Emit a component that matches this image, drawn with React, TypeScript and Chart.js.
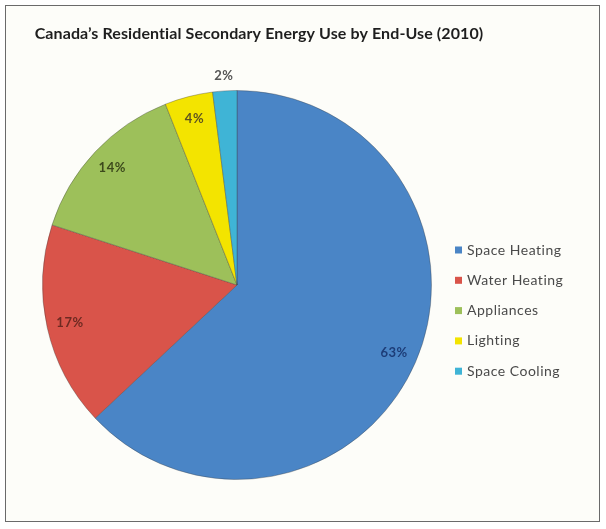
import React, { useEffect, useRef } from "react";
import { Chart, registerables } from "chart.js";

Chart.register(...registerables);

const TITLE = "Canada\u2019s Residential Secondary Energy Use by End-Use (2010)";
const categories = ["Space Heating", "Water Heating", "Appliances", "Lighting", "Space Cooling"];
const shares = [63, 17, 14, 4, 2];
const sliceColors = ["#4a85c6", "#d9544a", "#9dc05a", "#f3e400", "#3fb4d6"];
const labelColors = ["#1d3d78", "#6e2a22", "#3d4a1c", "#5e5420", "#555555"];

const titlePlugin = {
  id: "customTitle",
  afterDraw(chart: any) {
    const ctx = chart.ctx;
    ctx.save();
    ctx.font = "bold 16px Lato";
    (ctx as any).letterSpacing = "0.1px";
    ctx.fillStyle = "#1e1e1e";
    ctx.textAlign = "center";
    ctx.textBaseline = "middle";
    ctx.fillText(TITLE, 259, 34);
    ctx.restore();
  },
};

const sliceLabelPlugin = {
  id: "sliceLabels",
  afterDatasetsDraw(chart: any) {
    const ctx = chart.ctx;
    const meta = chart.getDatasetMeta(0);
    const values = chart.data.datasets[0].data;
    ctx.save();
    ctx.font = "bold 13px Lato";
    (ctx as any).letterSpacing = "0.5px";
    ctx.textAlign = "center";
    ctx.textBaseline = "middle";
    meta.data.forEach((arc: any, i: number) => {
      const p = arc.getProps(["x", "y", "startAngle", "endAngle", "outerRadius"], true);
      const mid = (p.startAngle + p.endAngle) / 2;
      const f = values[i] < 3 ? 1.08 : 0.88;
      const x = p.x + Math.cos(mid) * p.outerRadius * f;
      const y = p.y + Math.sin(mid) * p.outerRadius * f;
      ctx.fillStyle = labelColors[i];
      ctx.fillText(values[i] + "%", x, y);
    });
    ctx.restore();
  },
};

const legendPlugin = {
  id: "sideLegend",
  afterDraw(chart: any) {
    const ctx = chart.ctx;
    const ds = chart.data.datasets[0];
    ctx.save();
    ctx.font = "14px Lato";
    (ctx as any).letterSpacing = "0.5px";
    ctx.textBaseline = "middle";
    ctx.textAlign = "left";
    const x0 = 455;
    const y0 = 250;
    const step = 30.3;
    chart.data.labels.forEach((lab: string, i: number) => {
      const y = y0 + i * step;
      ctx.fillStyle = ds.backgroundColor[i];
      ctx.fillRect(x0, y - 3.5, 7, 7);
      ctx.fillStyle = "#4a4a4a";
      ctx.fillText(lab, x0 + 12, y);
    });
    ctx.restore();
  },
};

export default function App() {
  const ref = useRef<HTMLCanvasElement | null>(null);
  useEffect(() => {
    if (!ref.current) return;
    const chart = new Chart(ref.current, {
      type: "pie",
      data: {
        labels: categories,
        datasets: [
          {
            data: shares,
            backgroundColor: sliceColors,
            borderColor: "rgba(60,60,60,0.35)",
            borderWidth: 1,
          },
        ],
      },
      options: {
        animation: false,
        responsive: false,
        maintainAspectRatio: false,
        layout: { padding: { left: 42, right: 174, top: 90, bottom: 49 } },
        plugins: {
          legend: { display: false },
          title: { display: false },
          tooltip: { enabled: false },
        },
      },
      plugins: [titlePlugin, sliceLabelPlugin, legendPlugin],
    });
    return () => chart.destroy();
  }, []);
  return (
    <div style={{ position: "absolute", left: 0, top: 0, width: 606, height: 529, background: "#ffffff" }}>
      <div
        style={{
          position: "absolute",
          left: 5,
          top: 5,
          width: 593,
          height: 515,
          border: "1px solid #6a6a6a",
          background: "#fdfdf9",
        }}
      />
      <canvas ref={ref} width={606} height={529} style={{ position: "absolute", left: 0, top: 0 }} />
    </div>
  );
}
